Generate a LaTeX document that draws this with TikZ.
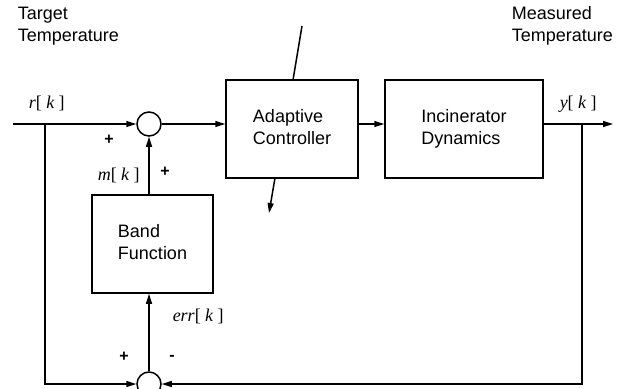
\documentclass[tikz,border=0pt]{standalone}
\usepackage{fontspec}
\setmainfont{Liberation Sans}
\newfontfamily\timesit{Liberation Serif}
\usetikzlibrary{arrows.meta}

\newcommand{\sigk}[1]{{\itshape #1}[ {\itshape k} ]}

\begin{document}
\begin{tikzpicture}[
            x=1pt, y=-1pt,
            line width=1.5pt,
            >={Triangle[length=10pt,width=6pt]},
            blk/.style={
              draw,
              align=left,
              minimum height=98pt,
              execute at begin node=\rule{0pt}{17pt},
              execute at end node=\vphantom{y},
              font=\fontsize{18}{22}\selectfont
            },
            sumnode/.style={
              draw, circle,
              minimum size=24pt,
              inner sep=0pt
            },
            lbl/.style={
              font=\fontsize{18}{22}\selectfont,
              align=left,
              inner sep=0pt
            },
            sgn/.style={
              font=\fontsize{16}{18}\selectfont\bfseries,
              inner sep=0pt
            },
            siglbl/.style={
              font=\fontsize{18}{22}\selectfont\timesit,
              inner sep=0pt,
              anchor=base west
            }
        ]
\useasboundingbox (0,0) rectangle (628,388);

% blocks and summing points
\node[blk, minimum width=132pt] (ctrl) at (292,129) {Adaptive\\Controller};
\node[blk, minimum width=158pt] (plant) at (464,129) {Incinerator\\Dynamics};
\node[blk, minimum width=121pt] (band) at (152.5,244) {Band\\Function};
\node[sumnode] (sumA) at (149,124) {};
\node[sumnode] (sumB) at (149,384) {};

\coordinate (in) at (13,124);
\coordinate (out) at (613,124);
\coordinate (tapR) at (45,124);
\coordinate (tapY) at (582,124);
\coordinate (adaptTop) at (302,26);
\coordinate (adaptIn) at (293,80);
\coordinate (adaptOut) at (275,178);
\coordinate (adaptBot) at (269,213);

% signal path
\draw[->] (in) -- (sumA);
\draw[->] (sumA) -- (sumA -| ctrl.west);
\draw[->] (ctrl.east |- sumA) -- (plant.west |- sumA);
\draw[->] (plant.east |- out) -- (out);
\draw[->] (tapR) |- (sumB);
\draw[->] (tapY) |- (sumB);
\draw[->] (sumB) -- (band.south -| sumB);
\draw[->] (band.north -| sumA) -- (sumA);
\draw (adaptTop) -- (adaptIn);
\draw[->] (adaptOut) -- (adaptBot);

% texts
\node[lbl, anchor=north west] (tgt) at (17,6) {Target\\Temperature};
\node[lbl, anchor=north west] (meas) at (511,6) {Measured\\Temperature};
\node[siglbl] (rk) at (28,108) {\sigk{r}};
\node[siglbl] (yk) at (559,108) {\sigk{y}};
\node[siglbl] (mk) at (97,180) {\sigk{m}};
\node[siglbl] (errk) at (172,321) {\sigk{err}};

\foreach \x/\y/\s in {109/140/+, 165/172/+, 124/357/+, 172/358/-}
    \node[sgn] at (\x,\y) {\s};

\end{tikzpicture}
\end{document}
